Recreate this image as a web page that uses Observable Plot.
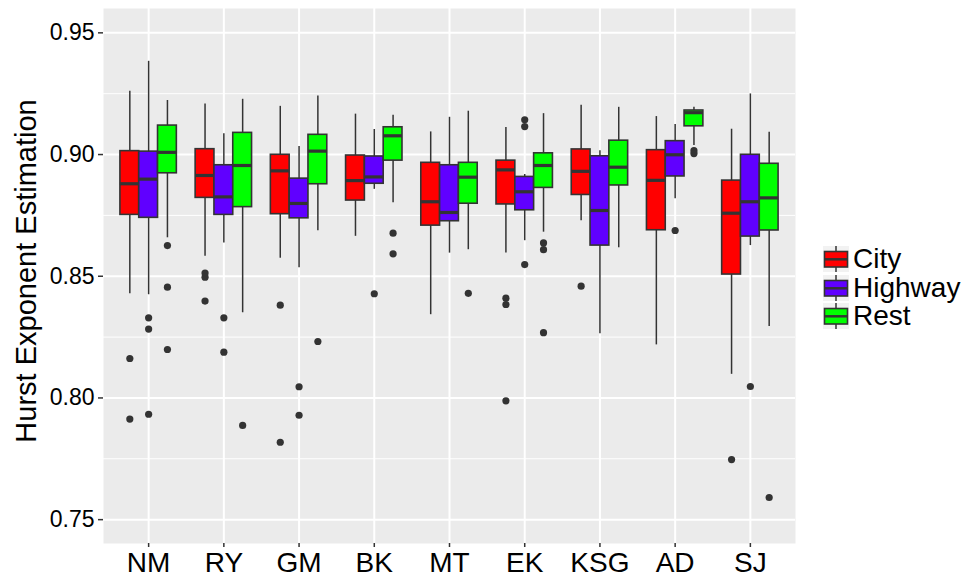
<!DOCTYPE html>
<html>
<head>
<meta charset="utf-8">
<script src="https://cdn.jsdelivr.net/npm/d3@7"></script>
<script src="https://cdn.jsdelivr.net/npm/@observablehq/plot@0.6"></script>
<style>
  html, body { margin: 0; padding: 0; background: white; }
  #wrap { position: relative; width: 966px; height: 579px; font-family: "Liberation Sans", Arial, sans-serif; }
  #legend { position: absolute; left: 823px; top: 245px; }
  .row { display: flex; align-items: center; height: 28.4px; }
  .key { width: 26px; height: 26px; background: #F2F2F2; }
  .lab { font-size: 28px; color: #000; margin-left: 4px; line-height: 26px; }
</style>
</head>
<body>
<div id="wrap"></div>
<script>
// ---- data (order within each array: category-major, then City, Highway, Rest) ----
const categories = ["NM", "RY", "GM", "BK", "MT", "EK", "KSG", "AD", "SJ"];
const groups = ["City", "Highway", "Rest"];
const colors = ["#FF0000", "#6000FF", "#00FF00"];

const upper = [
  0.9260, 0.9383, 0.9222,  0.9208, 0.9085, 0.9227,  0.9198, 0.9033, 0.9241,
  0.9166, 0.9103, 0.9161,  0.9093, 0.9153, 0.9178,  0.9111, 0.8918, 0.9168,
  0.9202, 0.9016, 0.9194,  0.9156, 0.9123, 0.9194,  0.9104, 0.9249, 0.9092
];
const q3 = [
  0.9014, 0.9012, 0.9119,  0.9022, 0.8956, 0.9089,  0.8999, 0.8901, 0.9081,
  0.8996, 0.8992, 0.9112,  0.8966, 0.8956, 0.8966,  0.8975, 0.8908, 0.9005,
  0.9021, 0.8993, 0.9057,  0.9018, 0.9055, 0.9181,  0.8893, 0.8999, 0.8962
];
const median = [
  0.8880, 0.8899, 0.9009,  0.8914, 0.8826, 0.8955,  0.8933, 0.8799, 0.9014,
  0.8893, 0.8908, 0.9077,  0.8806, 0.8762, 0.8907,  0.8937, 0.8847, 0.8955,
  0.8931, 0.8770, 0.8948,  0.8894, 0.8999, 0.9172,  0.8759, 0.8806, 0.8822
];
const q1 = [
  0.8752, 0.8740, 0.8923,  0.8822, 0.8752, 0.8784,  0.8755, 0.8738, 0.8878,
  0.8811, 0.8880, 0.8975,  0.8708, 0.8726, 0.8798,  0.8795, 0.8771, 0.8863,
  0.8834, 0.8626, 0.8873,  0.8689, 0.8910, 0.9116,  0.8507, 0.8663, 0.8688
];
const lower = [
  0.8428, 0.8424, 0.8658,  0.8582, 0.8637, 0.8350,  0.8574, 0.8535, 0.8687,
  0.8664, 0.8857, 0.8802,  0.8342, 0.8595, 0.8609,  0.8596, 0.8646, 0.8681,
  0.8728, 0.8264, 0.8617,  0.8218, 0.8818, 0.9037,  0.8097, 0.8626, 0.8294
];
const outliers = [
  [0.8162, 0.7913], [0.8329, 0.8283, 0.7933], [0.8626, 0.8455, 0.8199],
  [0.8513, 0.8496, 0.8398], [0.8329, 0.8188], [0.7887],
  [0.8381, 0.7818], [0.8046, 0.7929], [0.8232],
  [], [0.8428], [0.8677, 0.8592],
  [], [], [0.8430],
  [0.8410, 0.8384, 0.7988], [0.9143, 0.9115, 0.8548], [0.8637, 0.8609, 0.8268],
  [0.8459], [], [],
  [], [0.8688], [0.9016, 0.9004],
  [0.7747], [0.8047], [0.7591]
];
const yTicks = [0.75, 0.80, 0.85, 0.90, 0.95];
const yMinor = [0.775, 0.825, 0.875, 0.925];
const yTitle = "Hurst Exponent Estimation";

// ---- build tables ----
const dodge = 0.75 / groups.length; // ggplot dodge width 0.75
const boxes = upper.map((u, i) => {
  const c = Math.floor(i / groups.length), g = i % groups.length;
  const pos = c + (g - (groups.length - 1) / 2) * dodge;
  return {category: categories[c], group: groups[g], pos, x1: pos - dodge / 2, x2: pos + dodge / 2,
          lower: lower[i], q1: q1[i], median: median[i], q3: q3[i], upper: u};
});
const outPts = boxes.flatMap((b, i) => outliers[i].map(v => ({pos: b.pos, value: v, group: b.group})));
const catIdx = d3.range(categories.length);

const ink = "#333333";
const chart = Plot.plot({
  width: 966, height: 579,
  marginLeft: 103, marginRight: 171, marginTop: 8, marginBottom: 36,
  x: {domain: [-0.6, categories.length - 1 + 0.6], axis: null},
  y: {domain: [0.7402, 0.960], axis: null},
  color: {domain: groups, range: colors},
  style: {fontFamily: "'Liberation Sans', Arial, sans-serif", background: "white", color: "#000"},
  marks: [
    Plot.frame({fill: "#EBEBEB", stroke: null}),
    Plot.ruleY(yMinor, {stroke: "white", strokeWidth: 1}),
    Plot.ruleY(yTicks, {stroke: "white", strokeWidth: 2}),
    Plot.ruleX(catIdx, {stroke: "white", strokeWidth: 2}),
    Plot.ruleX(boxes, {x: "pos", y1: "lower", y2: "upper", stroke: ink, strokeWidth: 1.5}),
    Plot.rect(boxes, {x1: "x1", x2: "x2", y1: "q1", y2: "q3", fill: "group", stroke: ink, strokeWidth: 1.6}),
    Plot.ruleY(boxes, {x1: "x1", x2: "x2", y: "median", stroke: ink, strokeWidth: 3.2}),
    Plot.dot(outPts, {x: "pos", y: "value", r: 3.6, fill: ink, stroke: null}),
    Plot.axisX(catIdx, {tickFormat: i => categories[i], tickSize: 4, tickPadding: 5, fontSize: 28,
                        stroke: ink, strokeWidth: 1.5, fill: "#000", label: null}),
    Plot.axisY(yTicks, {tickFormat: d3.format(".2f"), tickSize: 5, tickPadding: 4, fontSize: 23,
                        stroke: ink, strokeWidth: 1.5, fill: "#000", label: null}),
    Plot.text([yTitle], {frameAnchor: "left", textAnchor: "middle", rotate: -90, dx: -77, dy: -5,
                         fontSize: 29, fill: "#000"})
  ]
});

const wrap = document.getElementById("wrap");
wrap.appendChild(chart);

// ---- legend (ggplot-style boxplot keys) ----
const legend = document.createElement("div");
legend.id = "legend";
groups.forEach((g, i) => {
  const row = document.createElement("div");
  row.className = "row";
  row.innerHTML =
    `<div class="key"><svg width="26" height="26">
       <line x1="13" x2="13" y1="0" y2="26" stroke="${ink}" stroke-width="1.5"/>
       <rect x="1.5" y="5.5" width="23" height="15.5" fill="${colors[i]}" stroke="${ink}" stroke-width="1.6"/>
       <line x1="1.5" x2="24.5" y1="13.3" y2="13.3" stroke="${ink}" stroke-width="2.5"/>
     </svg></div><div class="lab">${g}</div>`;
  legend.appendChild(row);
});
wrap.appendChild(legend);
</script>
</body>
</html>
